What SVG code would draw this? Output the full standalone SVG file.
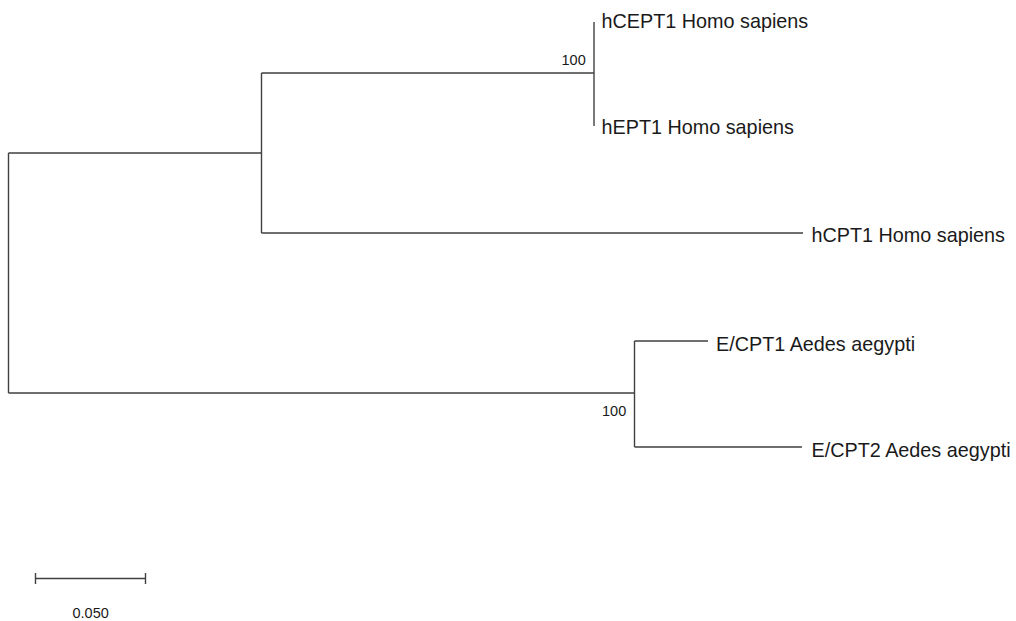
<svg xmlns="http://www.w3.org/2000/svg" width="1016" height="621" viewBox="0 0 1016 621">
<style>
.br{fill:none;stroke:#404040;stroke-width:1.4}
.lbl{font-family:"Liberation Sans",Arial,sans-serif;font-size:19.8px;fill:#1a1a1a}
.bs{font-family:"Liberation Sans",Arial,sans-serif;font-size:14.5px;fill:#1a1a1a}
</style>
<rect width="1016" height="621" fill="#fff"/>
<g id="connectors">
<path class="br" d="M8.5,153 V393 M8.5,153 H261.5 M8.5,393 H634.5"/>
<path class="br" d="M261.5,73 V233 M261.5,73 H594 M261.5,233 H803"/>
<path class="br" d="M594,22 V126"/>
<path class="br" d="M634.5,341 V447 M634.5,341 H708 M634.5,447 H802"/>
</g>
<g id="node-hCEPT1"><text class="lbl" x="601.5" y="28">hCEPT1 Homo sapiens</text></g>
<g id="node-hEPT1"><text class="lbl" x="601.5" y="133.5">hEPT1 Homo sapiens</text></g>
<g id="node-hCPT1"><text class="lbl" x="811.5" y="241.5">hCPT1 Homo sapiens</text></g>
<g id="node-ECPT1"><text class="lbl" x="716" y="351">E/CPT1 Aedes aegypti</text></g>
<g id="node-ECPT2"><text class="lbl" x="811.5" y="457">E/CPT2 Aedes aegypti</text></g>
<g id="bootstrap-1"><text class="bs" x="561.5" y="65">100</text></g>
<g id="bootstrap-2"><text class="bs" x="602" y="415.5">100</text></g>
<g id="scale-bar">
<path class="br" d="M35.5,578.5 H145.5 M35.5,573 V584 M145.5,573 V584"/>
<text class="bs" x="72.5" y="618">0.050</text>
</g>
</svg>
